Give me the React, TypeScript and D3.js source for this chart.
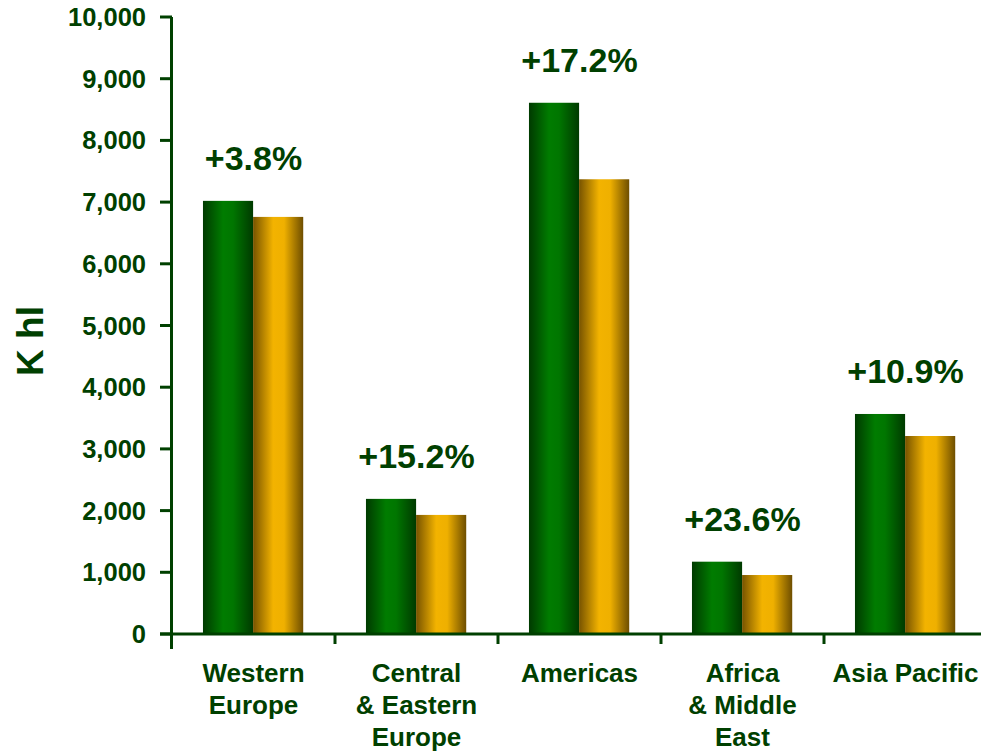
import React from "react";
import * as d3 from "d3";

const categories: string[][] = [
  ["Western", "Europe"],
  ["Central", "& Eastern", "Europe"],
  ["Americas"],
  ["Africa", "& Middle", "East"],
  ["Asia Pacific"],
];
const categoryKeys = ["Western Europe", "Central & Eastern Europe", "Americas", "Africa & Middle East", "Asia Pacific"];
const currentValues = [7020, 2190, 8610, 1172, 3566];
const previousValues = [6760, 1930, 7370, 956, 3209];
const growthLabels = ["+3.8%", "+15.2%", "+17.2%", "+23.6%", "+10.9%"];
const yTicks = [0, 1000, 2000, 3000, 4000, 5000, 6000, 7000, 8000, 9000, 10000];
const yTitle = "K hl";

const W = 981;
const H = 752;
const DARK = "#004000";
const FONT = "Arial, 'Liberation Sans', Helvetica, sans-serif";

export default function App() {
  const x0 = d3.scaleBand<string>().domain(categoryKeys).range([172, 987]).paddingInner(0).paddingOuter(0);
  const bw = x0.bandwidth();
  const x1 = d3.scaleBand<string>().domain(["cur", "prev"]).range([bw * 0.19, bw * 0.805]).padding(0);
  const y = d3.scaleLinear().domain([0, 10000]).range([634, 17]);
  const fmt = d3.format(",");

  return (
    <svg width={W} height={H} style={{ position: "absolute", left: 0, top: 0, background: "#fff" }} fontFamily={FONT}>
      <defs>
        <linearGradient id="gGreen" x1="0" x2="1" y1="0" y2="0">
          <stop offset="0%" stopColor="#003a00" />
          <stop offset="40%" stopColor="#007c00" />
          <stop offset="60%" stopColor="#007600" />
          <stop offset="100%" stopColor="#003a00" />
        </linearGradient>
        <linearGradient id="gGold" x1="0" x2="1" y1="0" y2="0">
          <stop offset="0%" stopColor="#775300" />
          <stop offset="40%" stopColor="#f3b300" />
          <stop offset="62%" stopColor="#efb000" />
          <stop offset="100%" stopColor="#6e4e00" />
        </linearGradient>
      </defs>

      {/* bars */}
      {categoryKeys.map((c, i) => (
        <g key={c} transform={`translate(${x0(c)},0)`}>
          <rect x={x1("cur")} y={y(currentValues[i])} width={x1.bandwidth()} height={y(0) - y(currentValues[i])} fill="url(#gGreen)" />
          <rect x={x1("prev")} y={y(previousValues[i])} width={x1.bandwidth()} height={y(0) - y(previousValues[i])} fill="url(#gGold)" />
          <text
            x={bw / 2}
            y={y(currentValues[i]) - 31}
            textAnchor="middle"
            fontSize={34}
            fontWeight="bold"
            fill={DARK}
          >
            {growthLabels[i]}
          </text>
          {categories[i].map((line, j) => (
            <text key={j} x={bw / 2} y={682 + j * 32} textAnchor="middle" fontSize={26} fontWeight="bold" fill={DARK}>
              {line}
            </text>
          ))}
        </g>
      ))}

      {/* y axis */}
      <line x1={171.5} x2={171.5} y1={y(10000)} y2={649} stroke={DARK} strokeWidth={3} />
      {yTicks.map((t) => (
        <g key={t}>
          <line x1={160} x2={172} y1={y(t)} y2={y(t)} stroke={DARK} strokeWidth={3} />
          <text x={146} y={y(t) + 9} textAnchor="end" fontSize={25.5} fontWeight="bold" fill={DARK}>
            {fmt(t)}
          </text>
        </g>
      ))}

      {/* x axis */}
      <line x1={160} x2={W} y1={y(0)} y2={y(0)} stroke={DARK} strokeWidth={3} />
      {categoryKeys.slice(1).map((c) => (
        <line key={c} x1={x0(c)!} x2={x0(c)!} y1={y(0)} y2={y(0) + 10} stroke={DARK} strokeWidth={3} />
      ))}

      {/* y title */}
      <text
        transform={`translate(43,341) rotate(-90)`}
        textAnchor="middle"
        fontSize={37}
        fontWeight="bold"
        fill={DARK}
      >
        {yTitle}
      </text>
    </svg>
  );
}
